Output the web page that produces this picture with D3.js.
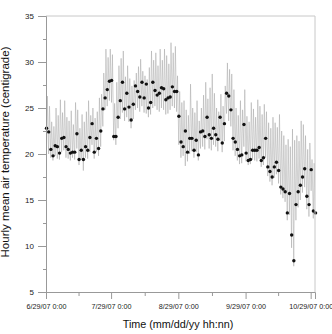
<!DOCTYPE html>
<html>
<head>
<meta charset="utf-8">
<script src="https://cdn.jsdelivr.net/npm/d3@7"></script>
<style>
body { margin: 0; background: #fff; }
text { font-family: "Liberation Sans", Arial, sans-serif; }
</style>
</head>
<body>
<div id="chart"></div>
<script>
// one value per day, starting 6/29/07
const dailyMean = [
  22.8, 22.4, 20.5, 19.8, 20.9, 20.8, 20.1, 21.7, 21.8, 20.8,
  20.5, 20.1, 20.2, 20.2, 22.2, 19.4, 20.4, 19.4, 20.8, 20.4,
  21.8, 23.3, 20.2, 21.7, 20.6, 22.5, 24.9, 26.1, 27.0, 27.9,
  28.0, 21.9, 21.9, 24.0, 25.8, 27.8, 24.9, 26.6, 25.1, 23.7,
  25.4, 27.4, 26.8, 26.2, 27.8, 26.1, 27.6, 25.0, 25.6, 27.8,
  26.9, 26.4, 26.6, 27.2, 27.1, 25.9, 26.1, 26.2, 27.3, 26.8,
  26.8, 24.1, 21.3, 20.8, 22.5, 20.2, 21.7, 21.7, 20.4, 21.5,
  19.9, 22.4, 22.5, 21.9, 24.0, 22.1, 21.7, 22.8, 22.1, 21.6,
  24.0, 21.2, 23.3, 26.6, 26.3, 24.8, 21.7, 21.3, 20.5, 19.8,
  19.9, 23.2, 20.1, 19.3, 19.4, 20.4, 20.4, 20.4, 20.7, 19.3,
  19.6, 21.7, 18.6, 18.1, 17.5, 18.6, 19.1, 18.2, 16.4, 16.2,
  15.9, 13.6, 15.7, 11.2, 8.4, 14.5, 15.9, 16.6, 17.5, 18.4,
  15.4, 14.5, 18.3, 13.8, 13.6
];
const dailyMax = [
  26.3, 25.2, 23.5, 23.0, 25.0, 24.2, 25.9, 24.5, 25.8, 24.0,
  23.6, 24.7, 23.2, 25.6, 24.8, 22.8, 24.3, 23.5, 24.6, 25.8,
  24.2, 25.0, 23.9, 24.6, 26.1, 26.5, 28.8, 31.4, 30.5, 31.4,
  30.8, 25.5, 27.8, 29.6, 30.4, 31.2, 28.4, 29.6, 28.2, 27.4,
  28.0, 28.8, 29.5, 30.3, 29.0, 28.5, 28.1, 29.4, 31.2, 30.2,
  31.0, 29.6, 31.4, 30.2, 31.4, 30.7, 29.8, 32.1, 31.0, 31.7,
  28.5, 26.8, 25.6, 25.8, 24.8, 24.2, 27.6, 25.0, 24.5, 25.8,
  23.6, 25.0, 26.4, 27.8, 26.0, 27.2, 28.7, 26.6, 25.0, 24.6,
  26.5, 25.2, 27.4, 29.9, 29.2, 28.7, 27.0, 25.0, 24.2, 25.8,
  24.8, 27.0, 24.1, 23.5, 25.6, 24.9, 24.0, 25.9, 25.2, 24.3,
  25.4, 24.6, 23.4, 22.8, 24.0, 23.4, 22.9, 24.3, 22.5, 22.0,
  21.0, 21.6, 20.8, 22.7, 21.5, 22.0, 21.4, 23.6, 23.2, 22.0,
  20.5, 21.2, 19.4, 19.0, 18.7
];
const dailyMin = [
  20.8, 20.0, 19.6, 19.3, 19.8, 19.5, 19.4, 20.2, 20.4, 19.6,
  19.5, 19.3, 19.6, 19.4, 20.6, 18.8, 19.4, 18.2, 19.6, 19.5,
  20.2, 21.0, 19.5, 20.2, 19.8, 20.8, 23.0, 24.8, 25.2, 25.8,
  25.6, 21.5, 21.0, 22.8, 23.8, 24.5, 23.6, 24.0, 23.5, 22.8,
  23.8, 24.8, 25.0, 24.6, 25.2, 24.5, 24.4, 24.0, 24.3, 25.0,
  25.2, 24.8, 24.6, 25.0, 24.8, 24.3, 24.4, 24.8, 25.2, 25.0,
  24.6, 21.0, 19.6, 19.8, 18.7, 19.2, 20.0, 20.3, 19.6, 20.2,
  19.3, 20.6, 20.8, 20.5, 21.6, 20.6, 20.4, 21.0, 20.8, 20.3,
  21.4, 20.2, 21.4, 24.4, 23.6, 23.0, 20.4, 19.8, 19.3, 18.9,
  19.0, 20.8, 19.2, 18.8, 18.9, 19.4, 19.3, 19.2, 19.5, 18.6,
  18.8, 19.6, 17.6, 17.0, 16.6, 17.4, 17.8, 16.8, 15.6, 15.2,
  14.8, 12.8, 13.4, 9.8, 7.8, 12.8, 14.2, 15.0, 15.8, 16.4,
  14.0, 13.2, 16.0, 13.0, 12.8
];
const xTickDates = ["2007-06-29", "2007-07-29", "2007-08-29", "2007-09-29", "2007-10-29"];
const yTickValues = [5, 10, 15, 20, 25, 30, 35];

const margin = {top: 16, right: 17, bottom: 42, left: 46};
const width = 332 - margin.left - margin.right;
const height = 334 - margin.top - margin.bottom;

const parseDay = d3.timeParse("%Y-%m-%d");
const start = parseDay("2007-06-29");
const end = parseDay("2007-10-31");

const svg = d3.select("#chart")
    .append("svg")
    .attr("width", width + margin.left + margin.right)
    .attr("height", height + margin.top + margin.bottom)
    .append("g")
    .attr("transform", "translate(" + margin.left + "," + margin.top + ")");

const x = d3.scaleTime().domain([start, end]).range([0, width]);
const y = d3.scaleLinear().domain([5, 35]).range([height, 0]);

// trace: daily low in the morning, daily high in the afternoon
const trace = [];
dailyMin.forEach((lo, i) => {
    const day = d3.timeDay.offset(start, i);
    trace.push({t: d3.timeHour.offset(day, 5), v: lo});
    trace.push({t: d3.timeHour.offset(day, 15), v: dailyMax[i]});
});
const means = dailyMean.map((v, i) => ({t: d3.timeHour.offset(d3.timeDay.offset(start, i), 6), v}));

svg.append("clipPath").attr("id", "clip")
    .append("rect").attr("width", width).attr("height", height);

svg.append("path")
    .datum(trace)
    .attr("clip-path", "url(#clip)")
    .attr("fill", "none")
    .attr("stroke", "#a4a4a4")
    .attr("stroke-width", 0.5)
    .attr("d", d3.line().x(d => x(d.t)).y(d => y(d.v)));

svg.append("g")
    .selectAll("circle")
    .data(means)
    .join("circle")
    .attr("cx", d => x(d.t))
    .attr("cy", d => y(d.v))
    .attr("r", 1.7)
    .attr("fill", "#111");

// frame top + right
svg.append("path")
    .attr("d", "M0,0H" + width + "V" + height)
    .attr("fill", "none")
    .attr("stroke", "#c8c8c8");

// axes
const majors = xTickDates.map(parseDay);
const minors = d3.pairs(majors).map(([a, b]) => new Date((+a + +b) / 2));

const fmt = d3.timeFormat("%-m/%d/%y %-H:%M");

const xAxis = svg.append("g")
    .attr("transform", "translate(0," + height + ")")
    .call(d3.axisBottom(x).tickValues(majors).tickSize(7).tickPadding(5).tickFormat(fmt));
svg.append("g")
    .attr("transform", "translate(0," + height + ")")
    .call(d3.axisBottom(x).tickValues(minors).tickSize(4).tickFormat(""))
    .call(g => g.select(".domain").remove());

const yAxis = svg.append("g")
    .call(d3.axisLeft(y).tickValues(yTickValues).tickSize(8).tickPadding(4));
svg.append("g")
    .call(d3.axisLeft(y).tickValues(yTickValues.slice(1).map(v => v - 2.5)).tickSize(3).tickFormat(""))
    .call(g => g.select(".domain").remove());

svg.selectAll(".domain, .tick line").attr("stroke", "#999");
xAxis.selectAll("text").attr("font-size", 7.2).attr("fill", "#222");
yAxis.selectAll("text").attr("font-size", 8).attr("fill", "#222");

svg.append("text")
    .attr("x", 132)
    .attr("y", height + 36)
    .attr("text-anchor", "middle")
    .attr("font-size", 10.8)
    .attr("fill", "#111")
    .text("Time (mm/dd/yy hh:nn)");

svg.append("text")
    .attr("transform", "rotate(-90)")
    .attr("x", -height / 2 + 2)
    .attr("y", -37)
    .attr("text-anchor", "middle")
    .attr("font-size", 11.5)
    .attr("fill", "#111")
    .text("Hourly mean air temperature (centigrade)");
</script>
</body>
</html>
